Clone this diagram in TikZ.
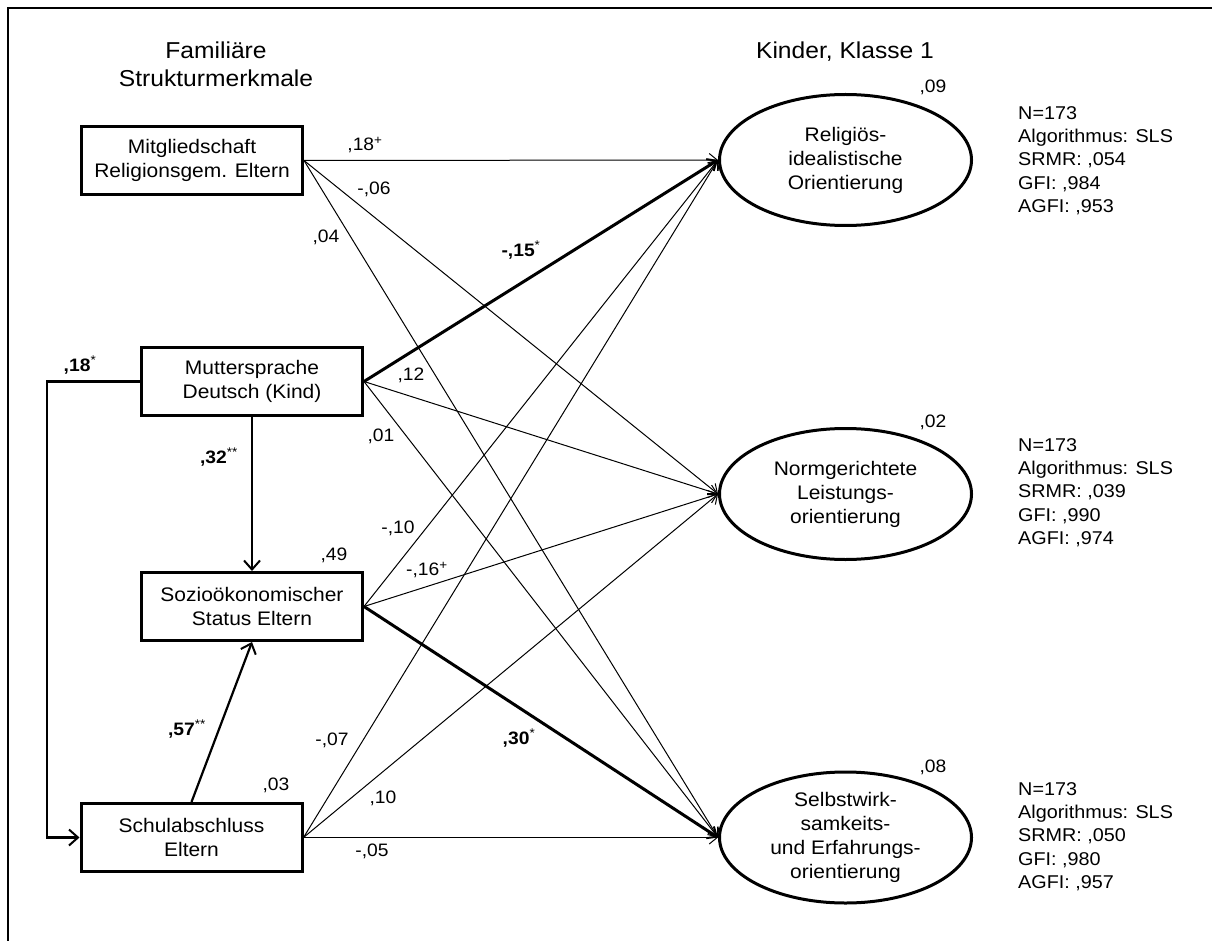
\documentclass[tikz,border=0pt]{standalone}
\usepackage{fontspec}
\setmainfont[FakeStretch=1.07]{Liberation Sans}
\usetikzlibrary{shapes.geometric,arrows.meta}
\newcommand\supmark[1]{\textsuperscript{#1}}
\begin{document}
\begin{tikzpicture}[x=1pt,y=-1pt,
  varbox/.style={draw,line width=3pt,minimum width=221pt,minimum height=68pt,
    inner sep=0pt,align=center,font=\fontsize{19.6}{24}\selectfont},
  latent/.style={ellipse,draw,line width=3pt,minimum width=252pt,minimum height=131pt,
    inner sep=0pt,align=center,font=\fontsize{19.6}{24}\selectfont},
  lnk/.style={line width=1pt,-{Straight Barb[length=8pt,width=13pt,line width=1pt]}},
  lnkbold/.style={line width=3pt,-{Straight Barb[length=8pt,width=14pt,line width=2pt]}},
  lnkmid/.style={line width=2.2pt,-{Straight Barb[length=9pt,width=16pt,line width=2pt]}},
  coef/.style={inner sep=0pt,font=\fontsize{18}{20}\selectfont},
  coefb/.style={coef,font=\fontsize{18}{20}\selectfont\bfseries},
  fit/.style={inner sep=0pt,anchor=north west,align=left,font=\fontsize{18.5}{23.3}\selectfont},
  head/.style={inner sep=0pt,anchor=north,align=center,font=\fontsize{23}{27.5}\selectfont}]

\useasboundingbox (0,0) rectangle (1212,941);
% frame
\draw[line width=2pt] (8,941) -- (8,8) -- (1212,8);

% headings
\node[head] (hfam) at (216,42) {Familiäre\\Strukturmerkmale};
\node[head] (hkid) at (845,42) {Kinder, Klasse 1};

% family structure variables
\node[varbox] (b1) at (192,160.5) {Mitgliedschaft\\Religionsgem. Eltern};
\node[varbox] (b2) at (252,381.5) {Muttersprache\\Deutsch (Kind)};
\node[varbox] (b3) at (252,606.5) {Sozioökonomischer\\Status Eltern};
\node[varbox] (b4) at (191.5,837.5) {Schulabschluss\\Eltern};

% child orientations
\node[latent] (e1) at (845.5,160) {Religiös-\\idealistische\\Orientierung};
\node[latent] (e2) at (845.5,494) {Normgerichtete\\Leistungs-\\orientierung};
\node[latent] (e3) at (845.5,837.5) {Selbstwirk-\\samkeits-\\und Erfahrungs-\\orientierung};

% explained variance
\node[coef,anchor=base] (r1) at (933,93) {,09};
\node[coef,anchor=base] (r2) at (933,427) {,02};
\node[coef,anchor=base] (r3) at (933,772) {,08};
\node[coef,anchor=base] (r49) at (334,560) {,49};
\node[coef,anchor=base] (r03) at (276,790) {,03};

% fit statistics
\node[fit] (f1) at (1018,106) {N=173\\Algorithmus: SLS\\SRMR: ,054\\GFI: ,984\\AGFI: ,953};
\node[fit] (f2) at (1018,438) {N=173\\Algorithmus: SLS\\SRMR: ,039\\GFI: ,990\\AGFI: ,974};
\node[fit] (f3) at (1018,782) {N=173\\Algorithmus: SLS\\SRMR: ,050\\GFI: ,980\\AGFI: ,957};

% paths among the family variables
\draw[lnkmid] (b2.south) -- (b3.north);
\draw[lnkmid] (b4.north) -- (b3.south);
\draw[lnkmid] (b2.west) -- ++(-93,0) |- (b4.west);

% paths to the orientations
\draw[lnk] (b1.east) -- (e1.west);
\draw[lnk] (b1.east) -- (e2.west);
\draw[lnk] (b1.east) -- (e3.west);
\draw[lnkbold] (b2.east) -- (e1.west);
\draw[lnk] (b2.east) -- (e2.west);
\draw[lnk] (b2.east) -- (e3.west);
\draw[lnk] (b3.east) -- (e1.west);
\draw[lnk] (b3.east) -- (e2.west);
\draw[lnkbold] (b3.east) -- (e3.west);
\draw[lnk] (b4.east) -- (e1.west);
\draw[lnk] (b4.east) -- (e2.west);
\draw[lnk] (b4.east) -- (e3.west);

% coefficients
\node[coefb] (k18) at (80,365) {,18\supmark{\mdseries*}};
\node[coefb] (k32) at (219,457) {,32\supmark{\mdseries**}};
\node[coefb] (k57) at (187,729) {,57\supmark{\mdseries**}};
\node[coef] (c1) at (365,145) {,18\supmark{+}};
\node[coef] (c2) at (374,189) {-,06};
\node[coef] (c3) at (326,237) {,04};
\node[coefb] (c4) at (521,250) {-,15\supmark{\mdseries*}};
\node[coef] (c5) at (411,375) {,12};
\node[coef] (c6) at (381,436) {,01};
\node[coef] (c7) at (398,528) {-,10};
\node[coef] (c8) at (427,570) {-,16\supmark{+}};
\node[coefb] (c9) at (519,738) {,30\supmark{\mdseries*}};
\node[coef] (c10) at (332,740) {-,07};
\node[coef] (c11) at (383,798) {,10};
\node[coef] (c12) at (372,851) {-,05};
\end{tikzpicture}
\end{document}
